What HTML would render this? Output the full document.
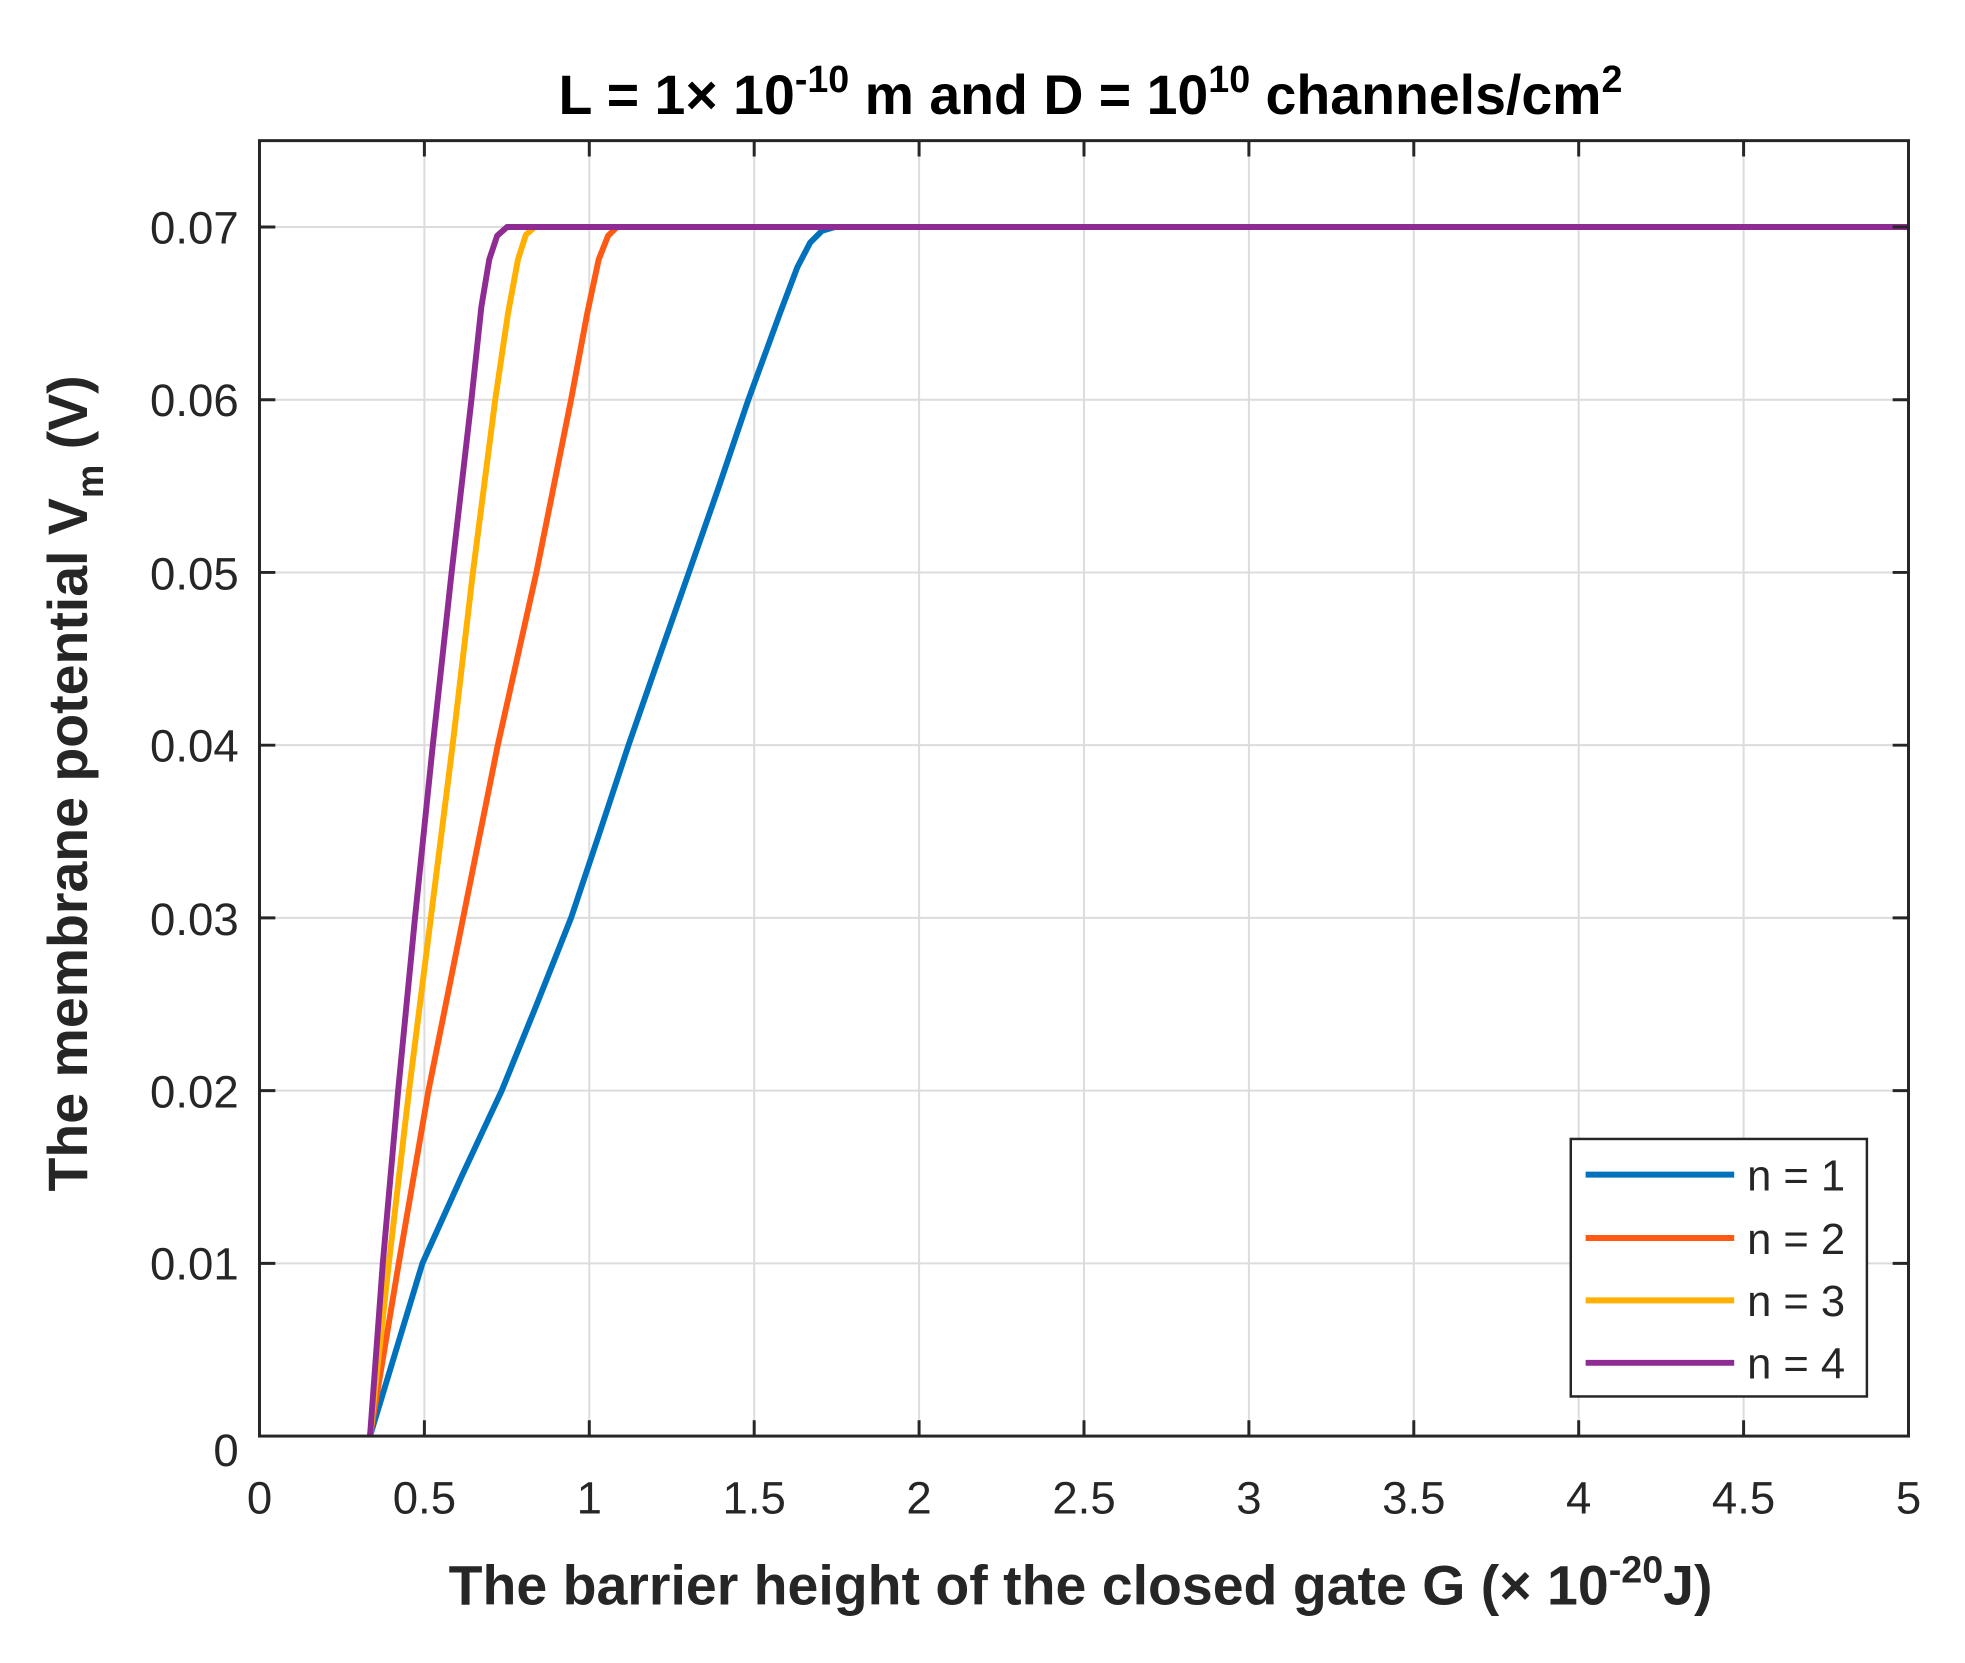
<!DOCTYPE html>
<html><head><meta charset="utf-8"><style>html,body{margin:0;padding:0;background:#fff}svg{display:block}</style></head>
<body>
<svg width="1965" height="1663" viewBox="0 0 1965 1663" xmlns="http://www.w3.org/2000/svg" font-family="Liberation Sans, Arial, sans-serif">
<rect width="1965" height="1663" fill="#fff"/>
<g transform="scale(0.9904)">
<g stroke="#dcdcdc" stroke-width="2">
<line x1="428.5" y1="142" x2="428.5" y2="1450"/><line x1="595" y1="142" x2="595" y2="1450"/><line x1="761.5" y1="142" x2="761.5" y2="1450"/><line x1="928" y1="142" x2="928" y2="1450"/><line x1="1094.5" y1="142" x2="1094.5" y2="1450"/><line x1="1261" y1="142" x2="1261" y2="1450"/><line x1="1427.5" y1="142" x2="1427.5" y2="1450"/><line x1="1594" y1="142" x2="1594" y2="1450"/><line x1="1760.5" y1="142" x2="1760.5" y2="1450"/>
<line x1="262" y1="1275.6" x2="1927" y2="1275.6"/><line x1="262" y1="1101.2" x2="1927" y2="1101.2"/><line x1="262" y1="926.8" x2="1927" y2="926.8"/><line x1="262" y1="752.4" x2="1927" y2="752.4"/><line x1="262" y1="578" x2="1927" y2="578"/><line x1="262" y1="403.6" x2="1927" y2="403.6"/><line x1="262" y1="229.2" x2="1927" y2="229.2"/>
</g>
<g fill="none" stroke-width="6" stroke-linejoin="round">
<polyline stroke="#0072BD" points="373.6,1450 426.5,1275.6 466,1188 506.6,1101.2 542,1014 576.6,926.8 606,839 634.6,752.4 665,665 695.6,578 726,491 755.6,403.6 787.6,316 805,270 818,245 830,233 843,229.2 1927,229.2"/>
<polyline stroke="#FF5A14" points="373.6,1450 402.6,1275.6 432.6,1101.2 467.6,926.8 502.6,752.4 541.6,578 576.6,403.6 593,316 604.5,262 614,238 623,229.2 1927,229.2"/>
<polyline stroke="#FFB000" points="373.6,1450 392.6,1275.6 413,1101.2 435,926.8 457,752.4 477.5,578 500,403.6 513,316 523,262 531,237 540,229.2 1927,229.2"/>
<polyline stroke="#8E2C93" points="373.6,1450 386.5,1275.6 402,1101.2 419,926.8 437,752.4 456,578 476,403.6 486,310 494,262 502,238 512,229.2 1927,229.2"/>
</g>
<rect x="262" y="142" width="1665" height="1308" fill="none" stroke="#262626" stroke-width="3"/>
<g stroke="#262626" stroke-width="3">
<path d="M428.5 1450v-16M595 1450v-16M761.5 1450v-16M928 1450v-16M1094.5 1450v-16M1261 1450v-16M1427.5 1450v-16M1594 1450v-16M1760.5 1450v-16"/>
<path d="M428.5 142v16M595 142v16M761.5 142v16M928 142v16M1094.5 142v16M1261 142v16M1427.5 142v16M1594 142v16M1760.5 142v16"/>
<path d="M262 1275.6h16M262 1101.2h16M262 926.8h16M262 752.4h16M262 578h16M262 403.6h16M262 229.2h16"/>
<path d="M1927 1275.6h-16M1927 1101.2h-16M1927 926.8h-16M1927 752.4h-16M1927 578h-16M1927 403.6h-16M1927 229.2h-16"/>
</g>
<g fill="#262626" font-size="46" text-anchor="end">
<text x="241" y="1480">0</text><text x="241" y="1292">0.01</text><text x="241" y="1118">0.02</text><text x="241" y="944">0.03</text><text x="241" y="769">0.04</text><text x="241" y="595">0.05</text><text x="241" y="420">0.06</text><text x="241" y="246">0.07</text>
</g>
<g fill="#262626" font-size="46" text-anchor="middle">
<text x="262" y="1528">0</text><text x="428.5" y="1528">0.5</text><text x="595" y="1528">1</text><text x="761.5" y="1528">1.5</text><text x="928" y="1528">2</text><text x="1094.5" y="1528">2.5</text><text x="1261" y="1528">3</text><text x="1427.5" y="1528">3.5</text><text x="1594" y="1528">4</text><text x="1760.5" y="1528">4.5</text><text x="1927" y="1528">5</text>
</g>
<text x="1101" y="115" text-anchor="middle" font-size="56" font-weight="bold" fill="#000">L = 1× 10<tspan dy="-22" font-size="38">-10</tspan><tspan dy="22"> m and D = 10</tspan><tspan dy="-22" font-size="38">10</tspan><tspan dy="22"> channels/cm</tspan><tspan dy="-22" font-size="38">2</tspan></text>
<text x="1091" y="1620" text-anchor="middle" font-size="56" font-weight="bold" fill="#262626">The barrier height of the closed gate G (× 10<tspan dy="-22" font-size="38">-20</tspan><tspan dy="22">J)</tspan></text>
<text transform="translate(88,791) rotate(-90)" text-anchor="middle" font-size="56" font-weight="bold" fill="#262626">The membrane potential V<tspan dy="16" font-size="38">m</tspan><tspan dy="-16"> (V)</tspan></text>
<rect x="1586" y="1150" width="299" height="260" fill="#fff" stroke="#262626" stroke-width="2.5"/>
<g stroke-width="6"><line x1="1601" y1="1186" x2="1751" y2="1186" stroke="#0072BD"/><line x1="1601" y1="1250" x2="1751" y2="1250" stroke="#FF5A14"/><line x1="1601" y1="1313" x2="1751" y2="1313" stroke="#FFB000"/><line x1="1601" y1="1376" x2="1751" y2="1376" stroke="#8E2C93"/></g>
<g fill="#262626" font-size="44"><text x="1764" y="1202">n = 1</text><text x="1764" y="1266">n = 2</text><text x="1764" y="1329">n = 3</text><text x="1764" y="1392">n = 4</text></g>
</g>
</svg>
</body></html>
